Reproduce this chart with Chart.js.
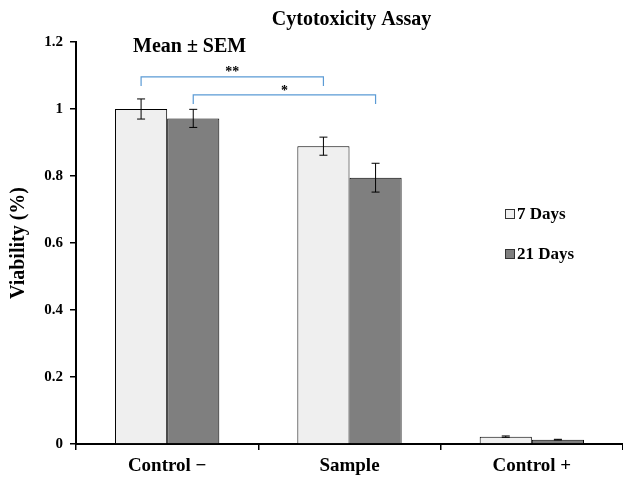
<!DOCTYPE html>
<html>
<head>
<meta charset="utf-8">
<script src="https://cdn.jsdelivr.net/npm/chart.js@4/dist/chart.umd.min.js"></script>
<style>
  html, body { margin: 0; padding: 0; background: #fff; }
  #wrap { width: 623px; height: 477px; }
</style>
</head>
<body>
<div id="wrap"><canvas id="chart-viabilidade"></canvas></div>
<script>
// data
const categories = ['Control \u2212', 'Sample', 'Control +'];
const seriesNames = ['7 Days', '21 Days'];
const days7 = [1.0, 0.889, 0.022];
const days21 = [0.972, 0.795, 0.013];
const sem7 = [0.03, 0.027, 0.002];
const sem21 = [0.027, 0.043, 0.001];
const yTicks = [0, 0.2, 0.4, 0.6, 0.8, 1, 1.2];
const chartTitle = 'Cytotoxicity Assay';
const note = 'Mean \u00b1 SEM';
// brackets: [category, series] -> [category, series], level, drop, label
const brackets = [
  { from: [0, 0], to: [1, 0], level: 1.096, drop: 0.027, label: '**' },
  { from: [0, 1], to: [1, 1], level: 1.042, drop: 0.027, label: '*' }
];

const serif = "'Liberation Serif', 'Times New Roman', serif";
const errors = [sem7, sem21];

const extras = {
  id: 'extras',
  afterDatasetsDraw(chart) {
    const ctx = chart.ctx;
    const area = chart.chartArea;
    const y = chart.scales.y;

    // error bars
    ctx.save();
    ctx.strokeStyle = '#000';
    ctx.lineWidth = 1;
    chart.data.datasets.forEach((ds, d) => {
      chart.getDatasetMeta(d).data.forEach((bar, i) => {
        const v = ds.data[i];
        const e = errors[d][i];
        const top = y.getPixelForValue(v + e);
        const bot = y.getPixelForValue(v - e);
        ctx.beginPath();
        ctx.moveTo(bar.x, top); ctx.lineTo(bar.x, bot);
        ctx.moveTo(bar.x - 4, top); ctx.lineTo(bar.x + 4, top);
        ctx.moveTo(bar.x - 4, bot); ctx.lineTo(bar.x + 4, bot);
        ctx.stroke();
      });
    });

    // significance brackets
    brackets.forEach(b => {
      const x1 = chart.getDatasetMeta(b.from[1]).data[b.from[0]].x;
      const x2 = chart.getDatasetMeta(b.to[1]).data[b.to[0]].x;
      const yl = y.getPixelForValue(b.level);
      const yd = y.getPixelForValue(b.level - b.drop);
      ctx.strokeStyle = '#5b9bd5';
      ctx.lineWidth = 1.2;
      ctx.beginPath();
      ctx.moveTo(x1, yd); ctx.lineTo(x1, yl); ctx.lineTo(x2, yl); ctx.lineTo(x2, yd);
      ctx.stroke();
      ctx.fillStyle = '#000';
      ctx.font = 'bold 14px ' + serif;
      ctx.textAlign = 'center';
      ctx.textBaseline = 'middle';
      ctx.fillText(b.label, (x1 + x2) / 2, yl - 4);
    });

    // title and note
    ctx.fillStyle = '#000';
    ctx.textAlign = 'center';
    ctx.textBaseline = 'middle';
    ctx.font = 'bold 20px ' + serif;
    ctx.fillText(chartTitle, (area.left + area.right) / 2 + 2, 20);
    ctx.textAlign = 'left';
    ctx.font = 'bold 20px ' + serif;
    ctx.fillText(note, area.left + 57, area.top + 5);

    // legend
    ctx.font = 'bold 17px ' + serif;
    chart.data.datasets.forEach((ds, d) => {
      const lx = area.right - 118;
      const ly = area.top + 172 + d * 40;
      ctx.fillStyle = ds.backgroundColor;
      ctx.fillRect(lx, ly - 5, 10, 10);
      ctx.strokeStyle = '#333';
      ctx.lineWidth = 1;
      ctx.strokeRect(lx + 0.5, ly - 4.5, 9, 9);
      ctx.fillStyle = '#000';
      ctx.fillText(ds.label, lx + 12, ly + 1);
    });
    ctx.restore();
  }
};

const dataViabilidade = {
  labels: categories,
  datasets: [{
    label: seriesNames[0],
    backgroundColor: '#efefef',
    borderColor: '#000',
    borderWidth: 1,
    data: days7
  },
  {
    label: seriesNames[1],
    backgroundColor: '#7f7f7f',
    borderColor: '#000',
    borderWidth: 1,
    data: days21
  }]
};

const configViabilidade = {
  type: 'bar',
  data: dataViabilidade,
  plugins: [extras],
  options: {
    responsive: true,
    maintainAspectRatio: false,
    animation: false,
    layout: {
      padding: { top: 42, right: -3, left: 0, bottom: 0 }
    },
    datasets: {
      bar: {
        categoryPercentage: 0.572,
        barPercentage: 1
      }
    },
    plugins: {
      legend: { display: false },
      title: { display: false },
      tooltip: { enabled: false }
    },
    scales: {
      x: {
        grid: {
          display: true,
          drawOnChartArea: false,
          offset: true,
          tickLength: 6,
          color: '#000',
          lineWidth: 1.5
        },
        border: { color: '#000', width: 2 },
        ticks: {
          color: '#000',
          padding: 5,
          font: { family: serif, size: 19, weight: 'bold' }
        },
        afterFit: s => { s.height = 33; }
      },
      y: {
        min: 0,
        max: 1.2,
        afterBuildTicks: s => { s.ticks = yTicks.map(v => ({ value: v })); },
        grid: {
          display: true,
          drawOnChartArea: false,
          tickLength: 6,
          color: '#000',
          lineWidth: 1.5
        },
        border: { color: '#000', width: 2 },
        ticks: {
          color: '#000',
          padding: 7,
          font: { family: serif, size: 15, weight: 'bold' },
          callback: v => String(v)
        },
        title: {
          display: true,
          text: 'Viability (%)',
          color: '#000',
          padding: { top: 7, bottom: 0 },
          font: { family: serif, size: 20, weight: 'bold' }
        },
        afterFit: s => { s.width = 76; }
      }
    }
  }
};

const chartViabilidade = new Chart(
  document.getElementById('chart-viabilidade'),
  configViabilidade
);
</script>
</body>
</html>
